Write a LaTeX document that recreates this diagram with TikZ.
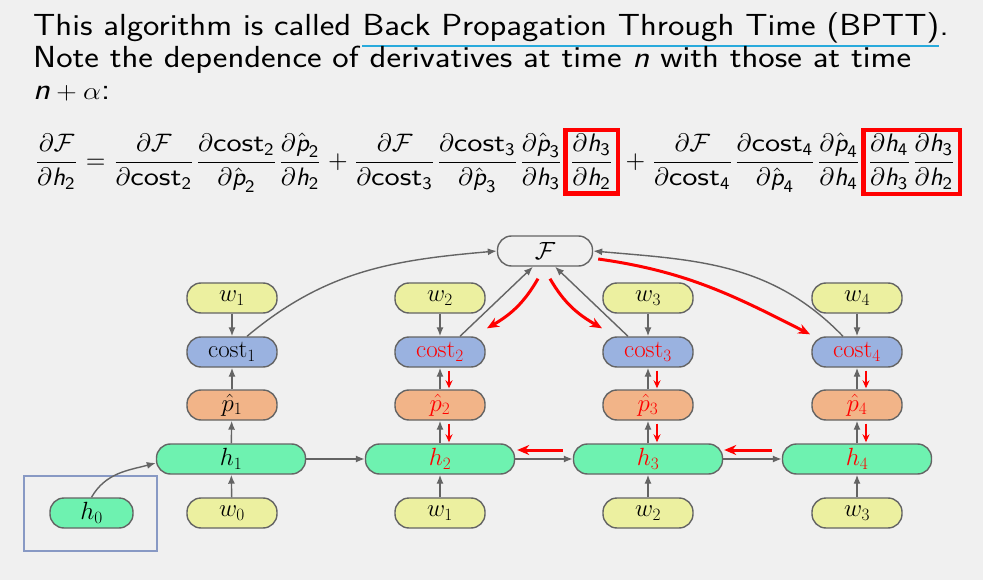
\documentclass[tikz,border=0pt]{standalone}
\usepackage{amsmath}
\usepackage{graphicx}
\usetikzlibrary{arrows.meta,calc}

\definecolor{bg}{RGB}{240,240,240}
\definecolor{edgegray}{RGB}{100,100,100}
\definecolor{wfill}{RGB}{236,240,160}
\definecolor{costfill}{RGB}{154,178,224}
\definecolor{pfill}{RGB}{242,180,136}
\definecolor{hfill}{RGB}{110,242,176}
\definecolor{linkline}{RGB}{40,170,220}
\definecolor{framecol}{RGB}{136,153,196}

% wide sans-serif lettering
\newcommand{\wide}[1]{\scalebox{1.14}[1]{#1}}
% sans-serif symbols for the formula
\newcommand{\symh}[1]{\textsf{\itshape h}_{\textsf{#1}}}
\newcommand{\symp}[1]{\hat{\textsf{\itshape p}}_{\textsf{#1}}}
\newcommand{\symc}[1]{\textsf{\scalebox{1.2}[1]{cost}}_{\textsf{#1}}}
\newcommand{\redframe}[1]{{\color{red}\setlength{\fboxrule}{1.8pt}\setlength{\fboxsep}{0.6pt}\fbox{\color{black}$\displaystyle #1$}}}

\tikzset{
  title/.style={anchor=base west, inner sep=0pt, font=\fontsize{30.5}{32}\selectfont\sffamily},
  unit/.style={draw=edgegray, line width=1.4pt, rounded corners=14pt,
    minimum height=30pt, minimum width=90pt, inner sep=0pt,
    font=\fontsize{26}{28}\selectfont},
  wbox/.style={unit, fill=wfill},
  costbox/.style={unit, fill=costfill},
  pbox/.style={unit, fill=pfill},
  hbox/.style={unit, fill=hfill, minimum width=149pt},
  fwd/.style={draw=edgegray, line width=1.4pt, -{Latex[length=9pt,width=7pt]}},
  bwd/.style={draw=red, line width=3pt, -{Stealth[length=12pt,width=10pt]}},
  bwdsmall/.style={draw=red, line width=2.4pt, -{Stealth[length=8pt,width=7pt]}},
}

\begin{document}
\begin{tikzpicture}[x=1pt,y=1pt]
  \fill[bg] (0,0) rectangle (983,-580);
  \useasboundingbox (0,0) rectangle (983,-580);

  % heading text
  \node[title] (t1) at (33,-36) {\wide{This algorithm is called\ }};
  \node[title] (t2) at (t1.base east) {\wide{Back Propagation Through Time (BPTT)}};
  \node[title] (t3) at (t2.base east) {\wide{.}};
  \draw[linkline, line width=2.2pt] ($(t2.base west)+(0,-10)$) -- ($(t2.base east)+(0,-10)$);
  \node[title] (t4) at (33,-68) {\wide{Note the dependence of derivatives at time \textit{n} with those at time}};
  \node[title] (t5) at (33,-100) {\wide{\textit{n}${}+\alpha$:}};

  % formula
  \node[anchor=west, inner sep=0pt] (eq) at (34,-162) {\resizebox{928pt}{!}{$\displaystyle
    \frac{\partial\mathcal{F}}{\partial \symh2} =
    \frac{\partial\mathcal{F}}{\partial \symc2}
    \frac{\partial \symc2}{\partial \symp2}
    \frac{\partial \symp2}{\partial \symh2} +
    \frac{\partial\mathcal{F}}{\partial \symc3}
    \frac{\partial \symc3}{\partial \symp3}
    \frac{\partial \symp3}{\partial \symh3}
    \redframe{\frac{\partial \symh3}{\partial \symh2}}
    +
    \frac{\partial\mathcal{F}}{\partial \symc4}
    \frac{\partial \symc4}{\partial \symp4}
    \frac{\partial \symp4}{\partial \symh4}
    \redframe{\frac{\partial \symh4}{\partial \symh3}\frac{\partial \symh3}{\partial \symh2}}$}};

  % objective
  \node[unit, minimum width=95pt] (F) at (545,-251) {$\mathcal{F}$};

  % column 1
  \node[wbox]    (wa1) at (232,-298) {$w_1$};
  \node[costbox] (c1)  at (232,-352) {$\mathrm{cost}_1$};
  \node[pbox]    (p1)  at (232,-405) {$\hat{p}_1$};
  \node[hbox]    (h1)  at (231,-459) {$h_1$};
  \node[wbox]    (wb0) at (232,-513) {$w_0$};

  % column 2
  \node[wbox]    (wa2) at (440,-298) {$w_2$};
  \node[costbox] (c2)  at (440,-352) {\color{red}$\mathrm{cost}_2$};
  \node[pbox]    (p2)  at (440,-405) {\color{red}$\hat{p}_2$};
  \node[hbox]    (h2)  at (440,-459) {\color{red}$h_2$};
  \node[wbox]    (wb1) at (440,-513) {$w_1$};

  % column 3
  \node[wbox]    (wa3) at (648,-298) {$w_3$};
  \node[costbox] (c3)  at (648,-352) {\color{red}$\mathrm{cost}_3$};
  \node[pbox]    (p3)  at (648,-405) {\color{red}$\hat{p}_3$};
  \node[hbox]    (h3)  at (648,-459) {\color{red}$h_3$};
  \node[wbox]    (wb2) at (648,-513) {$w_2$};

  % column 4
  \node[wbox]    (wa4) at (857,-298) {$w_4$};
  \node[costbox] (c4)  at (857,-352) {\color{red}$\mathrm{cost}_4$};
  \node[pbox]    (p4)  at (857,-405) {\color{red}$\hat{p}_4$};
  \node[hbox]    (h4)  at (857,-459) {\color{red}$h_4$};
  \node[wbox]    (wb3) at (857,-513) {$w_3$};

  % initial state
  \node[unit, fill=hfill, minimum width=83pt] (h0) at (91.5,-513) {$h_0$};
  \node[draw=framecol, line width=2.4pt, minimum width=133pt, minimum height=75pt,
        inner sep=0pt] (h0frame) at (90.5,-513.5) {};

  % forward connections
  \foreach \i in {1,2,3,4} {
    \draw[fwd] (wa\i) -- (c\i);
    \draw[fwd] (p\i) -- (c\i);
    \draw[fwd] (h\i) -- (p\i);
  }
  \draw[fwd] (wb0) -- (h1);
  \draw[fwd] (wb1) -- (h2);
  \draw[fwd] (wb2) -- (h3);
  \draw[fwd] (wb3) -- (h4);
  \draw[fwd] (h1) -- (h2);
  \draw[fwd] (h2) -- (h3);
  \draw[fwd] (h3) -- (h4);
  \draw[fwd] (h0.north) to[out=60, in=195] ($(h1.west)+(0,-4)$);
  \draw[fwd] ($(c1.north)+(15,0)$) to[out=40, in=185] (F.west);
  \draw[fwd] ($(c2.north)+(20,0)$) -- ($(F.south)+(-12,0)$);
  \draw[fwd] ($(c3.north)+(-20,0)$) -- ($(F.south)+(10,0)$);
  \draw[fwd] ($(c4.north)+(-14,0)$) to[out=134, in=-5] (F.east);

  % backward flow of derivatives
  \draw[bwd] ($(F.south)+(-7,-12)$) to[out=240, in=30] ($(c2.north)+(47,8)$);
  \draw[bwd] ($(F.south)+(5,-12)$) to[out=-60, in=150] ($(c3.north)+(-46,8)$);
  \draw[bwd] ($(F.east)+(5,-8)$) to[out=-8, in=153] ($(c4.north)+(-47,2)$);
  \foreach \i in {2,3,4} {
    \draw[bwdsmall] ($(c\i.south)+(9,-3)$) -- ($(p\i.north)+(9,1)$);
    \draw[bwdsmall] ($(p\i.south)+(9,-3)$) -- ($(h\i.north)+(9,1)$);
  }
  \draw[bwd] ($(h3.west)+(-10,9)$) -- ($(h2.east)+(2,9)$);
  \draw[bwd] ($(h4.west)+(-10,9)$) -- ($(h3.east)+(1,9)$);
\end{tikzpicture}
\end{document}
